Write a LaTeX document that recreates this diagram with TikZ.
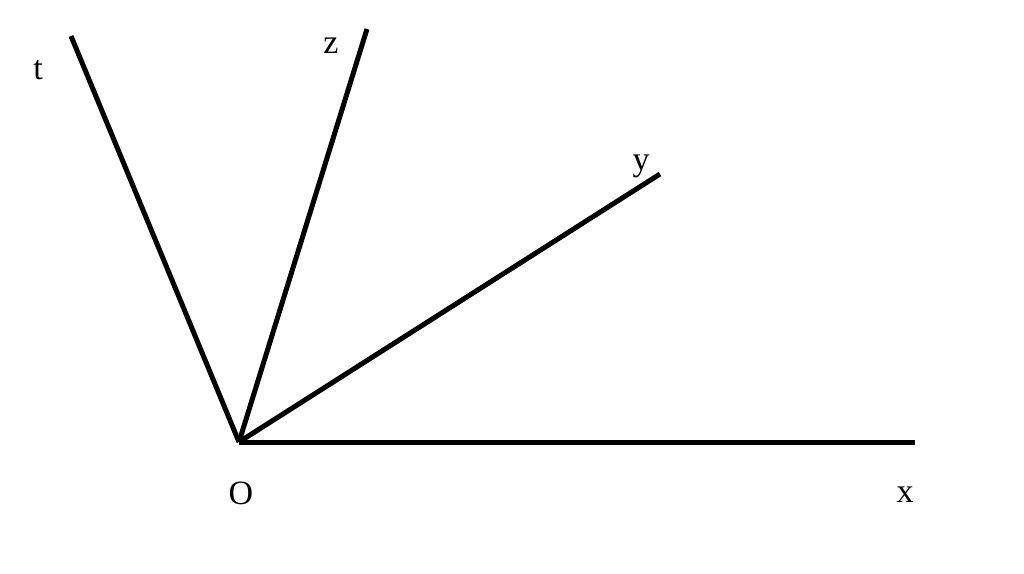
\documentclass[tikz,border=0pt]{standalone}
\usepackage{fontspec}
\setmainfont{Liberation Serif}
\begin{document}
\begin{tikzpicture}[x=1pt,y=-1pt,
  ray/.style={line width=5pt,line cap=butt},
  lbl/.style={font=\fontsize{34}{40}\selectfont,inner sep=0pt}]
\useasboundingbox (0,0) rectangle (1024,573);
\coordinate (O) at (239,442);
\coordinate (X) at (915,442);
\coordinate (Y) at (660,174);
\coordinate (Z) at (367,29);
\coordinate (T) at (71,36);
\draw[ray] (O) -- (X);
\draw[ray] (O) -- (Y);
\draw[ray] (O) -- (Z);
\draw[ray] (O) -- (T);
\node[lbl] (lO) at (241,493) {O};
\node[lbl] (lx) at (905,495) {x};
\node[lbl] (ly) at (641,166) {y};
\node[lbl] (lz) at (331,46) {z};
\node[lbl] (lt) at (38,70) {t};
\end{tikzpicture}
\end{document}
